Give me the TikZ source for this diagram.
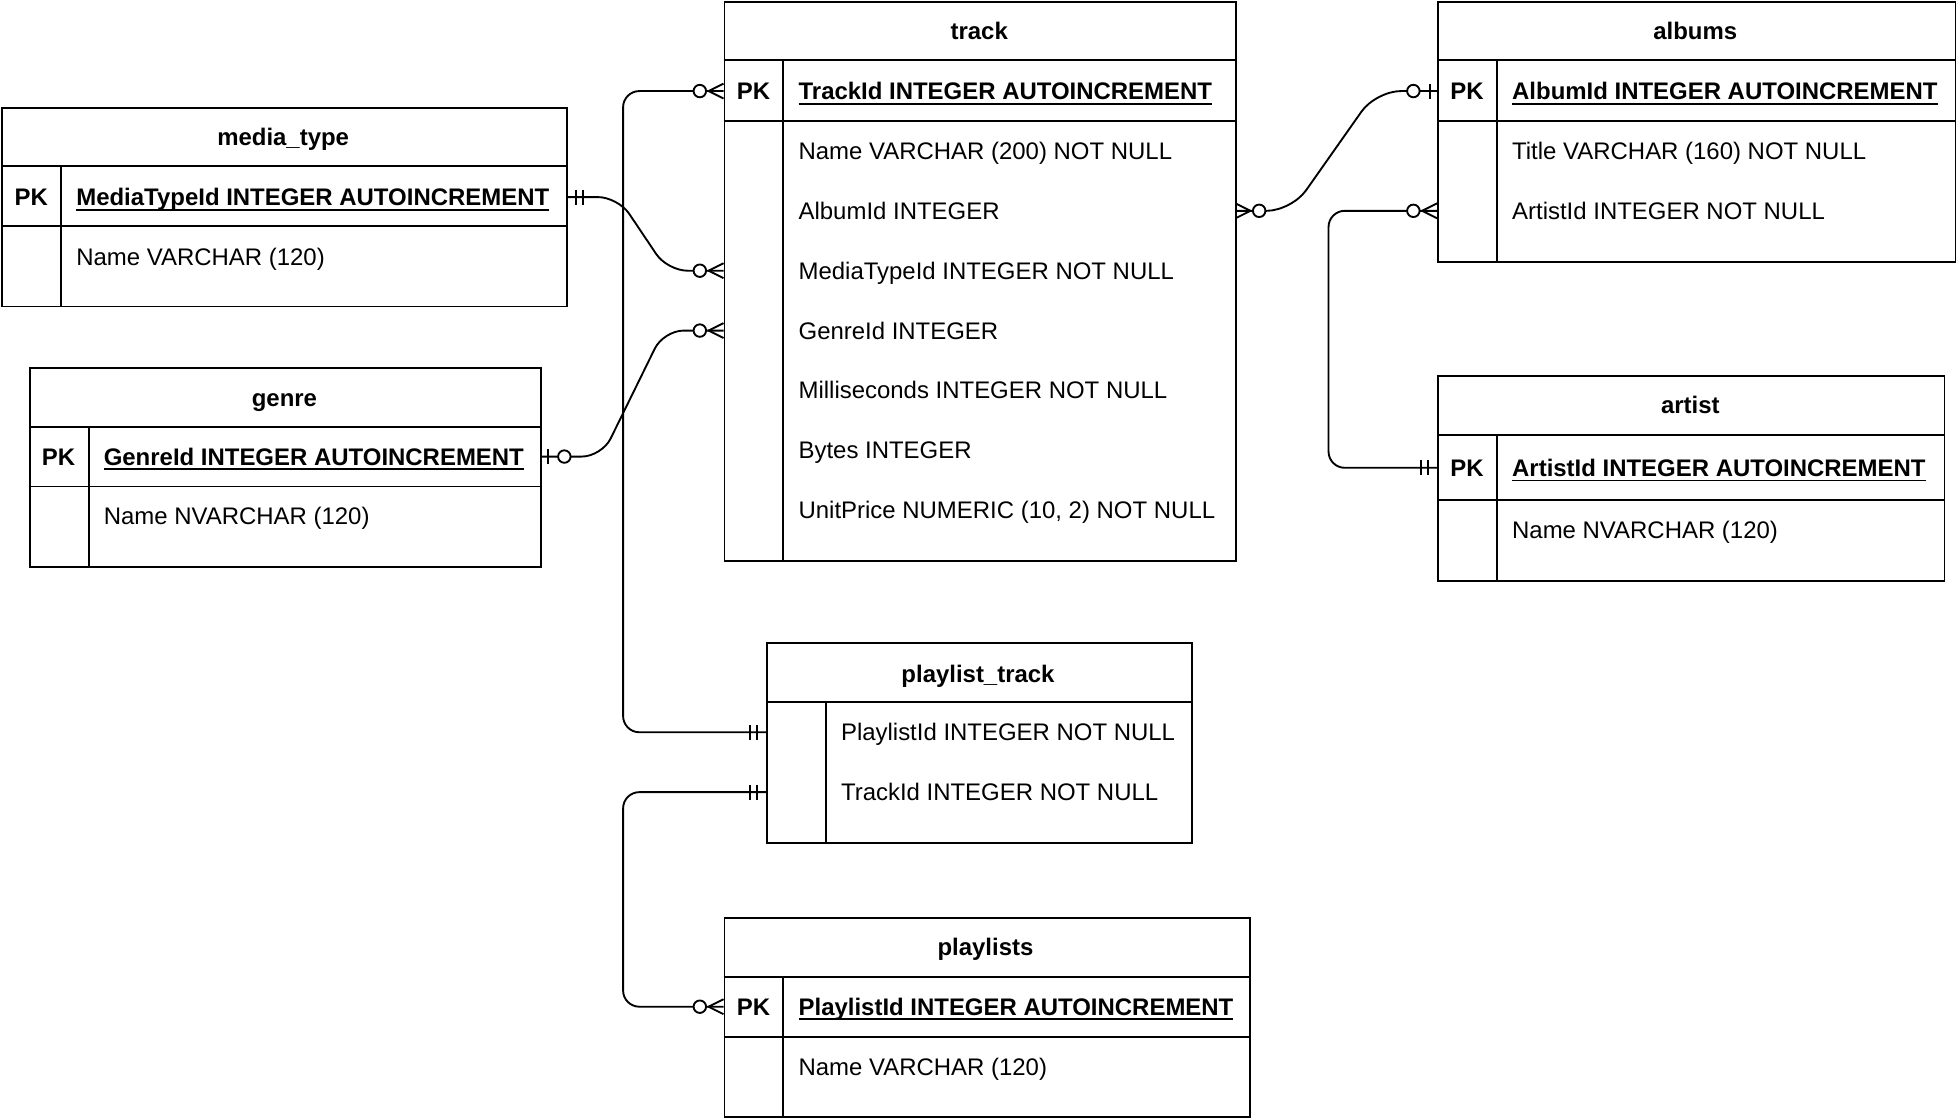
\documentclass[tikz,border=0pt]{standalone}
\usepackage{fontspec}
\setmainfont{Liberation Sans}
\usetikzlibrary{calc}
\newcommand\efs{\fontsize{19.2pt}{23pt}\selectfont}
\newcommand\pkul[1]{\setbox0\hbox{#1}\rlap{\rule[-4pt]{\wd0}{1.4pt}}\box0}
\begin{document}
\begin{tikzpicture}[x=1pt,y=-1pt,
  ln/.style={line width=1.5pt},
  tbl/.style={draw, line width=1.5pt, anchor=north west, inner sep=0pt},
  rowref/.style={anchor=west, inner sep=0pt, minimum height=48pt},
  hd/.style={font=\efs\bfseries, inner sep=0pt, text height=13.7pt, text depth=0pt},
  pkt/.style={font=\efs\bfseries, inner sep=0pt, text height=13.7pt, text depth=0pt},
  fld/.style={font=\efs, anchor=west, inner sep=0pt, text height=13.7pt, text depth=0pt},
  pkf/.style={font=\efs\bfseries, anchor=west, inner sep=0pt, text height=13.7pt, text depth=0pt},
  conn/.style={line width=1.5pt},
  zmany/.pic={\draw[line width=1.5pt] (0,-6) -- (-12,0) -- (0,6);
              \draw[line width=1.5pt, fill=white] (-19,0) circle[radius=5pt];},
  onlyone/.pic={\draw[line width=1.5pt] (-7,-6) -- (-7,6) (-13,-6) -- (-13,6);},
  zone/.pic={\draw[line width=1.5pt] (-6,-6) -- (-6,6);
             \draw[line width=1.5pt, fill=white] (-19,0) circle[radius=5pt];}
]
\useasboundingbox (0,0) rectangle (1568,896);

% ---------- track ----------
\node[tbl, minimum width=410pt, minimum height=448pt] (track) at (580,1) {};
\draw[ln] (580,48) -- (990,48) (580,97) -- (990,97) (628,48) -- (628,449);
\node[hd] (track-h) at (785,25) {track};
\node[pkt] (track-k) at (604,73) {PK};
\node[pkf] at (640,73) {\pkul{TrackId INTEGER AUTOINCREMENT}};
\node[fld] at (640,121) {Name VARCHAR (200) NOT NULL};
\node[fld] at (640,169) {AlbumId INTEGER};
\node[fld] at (640,217) {MediaTypeId INTEGER NOT NULL};
\node[fld] at (640,265) {GenreId INTEGER};
\node[fld] at (640,313) {Milliseconds INTEGER NOT NULL};
\node[fld] at (640,361) {Bytes INTEGER};
\node[fld] at (640,409) {UnitPrice NUMERIC (10, 2) NOT NULL};
\node[rowref, minimum width=410pt] (tr-pk) at (580,73) {};
\node[rowref, minimum width=410pt] (tr-album) at (580,169) {};
\node[rowref, minimum width=410pt] (tr-media) at (580,217) {};
\node[rowref, minimum width=410pt] (tr-genre) at (580,265) {};

% ---------- albums ----------
\node[tbl, minimum width=415pt, minimum height=208pt] (albums) at (1152,1) {};
\draw[ln] (1152,48) -- (1567,48) (1152,97) -- (1567,97) (1200,48) -- (1200,209);
\node[hd] at (1359,25) {albums};
\node[pkt] at (1176,73) {PK};
\node[pkf] at (1212,73) {\pkul{AlbumId INTEGER AUTOINCREMENT}};
\node[fld] at (1212,121) {Title VARCHAR (160) NOT NULL};
\node[fld] at (1212,169) {ArtistId INTEGER NOT NULL};
\node[rowref, minimum width=415pt] (al-pk) at (1152,73) {};
\node[rowref, minimum width=415pt] (al-artist) at (1152,169) {};

% ---------- artist ----------
\node[tbl, minimum width=406pt, minimum height=164pt] (artist) at (1152,301) {};
\draw[ln] (1152,349) -- (1558,349) (1152,401) -- (1558,401) (1200,349) -- (1200,465);
\node[hd] at (1355,325) {artist};
\node[pkt] at (1176,375) {PK};
\node[pkf] at (1212,375) {\pkul{ArtistId INTEGER AUTOINCREMENT}};
\node[fld] at (1212,425) {Name NVARCHAR (120)};
\node[rowref, minimum width=406pt] (ar-pk) at (1152,375) {};

% ---------- media_type ----------
\node[tbl, minimum width=453pt, minimum height=159pt] (mediatype) at (1,86) {};
\draw[ln] (1,133) -- (454,133) (1,181) -- (454,181) (49,133) -- (49,245);
\node[hd] at (227,110) {media\_type};
\node[pkt] at (25,158) {PK};
\node[pkf] at (61,158) {\pkul{MediaTypeId INTEGER AUTOINCREMENT}};
\node[fld] at (61,206) {Name VARCHAR (120)};
\node[rowref, minimum width=453pt] (mt-pk) at (1,158) {};

% ---------- genre ----------
\node[tbl, minimum width=410pt, minimum height=160pt] (genre) at (23,294) {};
\draw[ln] (23,342) -- (433,342) (23,390) -- (433,390) (71,342) -- (71,454);
\node[hd] at (228,319) {genre};
\node[pkt] at (47,366) {PK};
\node[pkf] at (83,366) {\pkul{GenreId INTEGER AUTOINCREMENT}};
\node[fld] at (83,414) {Name NVARCHAR (120)};
\node[rowref, minimum width=410pt] (ge-pk) at (23,366) {};

% ---------- playlist_track ----------
\node[tbl, minimum width=341pt, minimum height=160pt] (pltrack) at (614,515) {};
\draw[ln] (614,563) -- (955,563) (662,563) -- (662,675);
\node[hd] at (784,540) {playlist\_track};
\node[fld] at (674,587) {PlaylistId INTEGER NOT NULL};
\node[fld] at (674,635) {TrackId INTEGER NOT NULL};
\node[rowref, minimum width=341pt] (pt-pl) at (614,587) {};
\node[rowref, minimum width=341pt] (pt-tr) at (614,635) {};

% ---------- playlists ----------
\node[tbl, minimum width=421pt, minimum height=160pt] (playlists) at (580,735) {};
\draw[ln] (580,783) -- (1001,783) (580,831) -- (1001,831) (628,783) -- (628,895);
\node[hd] at (790,759) {playlists};
\node[pkt] at (604,807) {PK};
\node[pkf] at (640,807) {\pkul{PlaylistId INTEGER AUTOINCREMENT}};
\node[fld] at (640,855) {Name VARCHAR (120)};
\node[rowref, minimum width=421pt] (pl-pk) at (580,807) {};

% ---------- connectors ----------
\draw[conn, rounded corners=16pt] (mt-pk.east) -- ++(41,0) -- ($(tr-media.west)+(-45,0)$) -- (tr-media.west);
\draw[conn, rounded corners=16pt] (ge-pk.east) -- ++(49,0) -- ($(tr-genre.west)+(-48,0)$) -- (tr-genre.west);
\draw[conn, rounded corners=20pt] (tr-album.east) -- ++(45,0) -- ($(al-pk.west)+(-49,0)$) -- (al-pk.west);
\draw[conn, rounded corners=13pt] (al-artist.west) -- ++(-87,0) |- (ar-pk.west);
\draw[conn, rounded corners=13pt] (tr-pk.west) -- ++(-80.5,0) |- (pt-pl.west);
\draw[conn, rounded corners=13pt] (pt-tr.west) -- ++(-114.5,0) |- (pl-pk.west);

% ---------- markers ----------
\pic[xscale=-1] at (mt-pk.east) {onlyone};
\pic at (tr-media.west) {zmany};
\pic[xscale=-1] at (ge-pk.east) {zone};
\pic at (tr-genre.west) {zmany};
\pic[xscale=-1] at (tr-album.east) {zmany};
\pic at (al-pk.west) {zone};
\pic at (al-artist.west) {zmany};
\pic at (ar-pk.west) {onlyone};
\pic at (tr-pk.west) {zmany};
\pic at (pt-pl.west) {onlyone};
\pic at (pt-tr.west) {onlyone};
\pic at (pl-pk.west) {zmany};
\end{tikzpicture}
\end{document}
